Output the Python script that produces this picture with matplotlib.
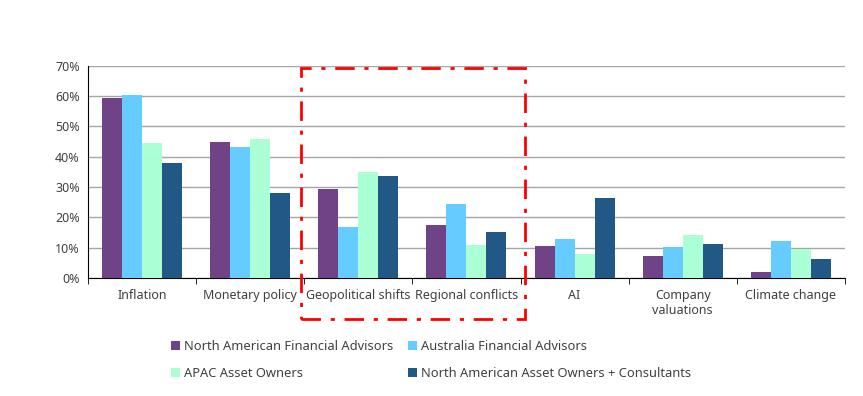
import numpy as np
import matplotlib.pyplot as plt
from matplotlib.patches import Rectangle

plt.rcParams['font.family'] = ['Noto Sans', 'DejaVu Sans']

categories = ['Inflation', 'Monetary policy', 'Geopolitical shifts', 'Regional conflicts',
              'AI', 'Company\nvaluations', 'Climate change']
series = ['North American Financial Advisors', 'Australia Financial Advisors',
          'APAC Asset Owners', 'North American Asset Owners + Consultants']
na_fa = [59.2, 44.7, 29.3, 17.4, 10.6, 7.2, 2.1]
au_fa = [60.2, 43.1, 16.8, 24.3, 12.8, 10.2, 12.1]
apac_ao = [44.4, 46.0, 34.9, 10.9, 7.8, 14.1, 9.6]
na_ao = [37.8, 28.0, 33.6, 15.1, 26.4, 11.2, 6.2]
values = [na_fa, au_fa, apac_ao, na_ao]
colors = ['#6F4385', '#66CCFF', '#AAFFD4', '#225885']

fig = plt.figure(figsize=(8.63, 3.96), dpi=100)
ax = fig.add_axes([0.102, 0.298, 0.877, 0.536])

x = np.arange(len(categories))
w = 0.185
bars = []
for i, (vals, c) in enumerate(zip(values, colors)):
    bars.append(ax.bar(x + (i - 1.5) * w, np.array(vals) / 100, w, color=c,
                       label=series[i], zorder=3))

ax.set_xlim(-0.5, len(categories) - 0.5)
ax.set_ylim(0, 0.7)
ax.set_yticks(np.arange(0, 0.71, 0.1))
ax.set_yticklabels([f'{int(round(v * 100))}%' for v in np.arange(0, 0.71, 0.1)])
ax.yaxis.grid(True, color='#A6A6A6', linewidth=1, zorder=0)
ax.tick_params(axis='y', length=0, labelsize=9, colors='#404040', pad=6)
ax.set_xticks(x)
ax.set_xticklabels(categories)
ax.tick_params(axis='x', which='major', length=0, labelsize=9, colors='#404040', pad=8)
ax.set_xticks(np.arange(-0.5, len(categories), 1), minor=True)
ax.tick_params(axis='x', which='minor', length=4, color='black')
for s in ['top', 'right']:
    ax.spines[s].set_visible(False)
for s in ['left', 'bottom']:
    ax.spines[s].set_color('black')

ax.add_patch(Rectangle((1.47, -0.135), 2.07, 0.829, fill=False, edgecolor='#FF0000',
                       linestyle=(0, (7, 3.5, 1.5, 3.5)), linewidth=2, clip_on=False, zorder=5))

# legend reads row by row: reorder for column-first filling
order = [0, 2, 1, 3]
fig.legend([bars[i] for i in order], [series[i] for i in order],
           loc='lower left', bbox_to_anchor=(0.185, 0.01), ncol=2, frameon=False,
           fontsize=9.3, handlelength=0.7, handleheight=0.7, handletextpad=0.3,
           columnspacing=1.15, labelspacing=1.1, labelcolor='#404040')

fig.savefig('out.png', dpi=100)
